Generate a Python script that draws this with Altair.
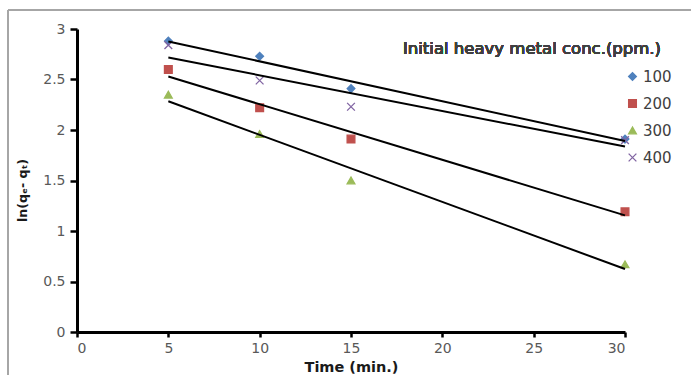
import altair as alt
import pandas as pd

# Pseudo-first-order kinetics: ln(qe - qt) against contact time
times = [5, 10, 15, 30]
series_names = ["100", "200", "300", "400"]
ln_100 = [2.88, 2.73, 2.41, 1.91]
ln_200 = [2.60, 2.22, 1.91, 1.19]
ln_300 = [2.35, 1.96, 1.50, 0.67]
ln_400 = [2.84, 2.49, 2.23, 1.90]

colors = ["#4F81BD", "#C0504D", "#9BBB59", "#8064A2"]
shapes = ["diamond", "square", "triangle-up", "M-1,-1L1,1M1,-1L-1,1"]

x_ticks = [0, 5, 10, 15, 20, 25, 30]
y_ticks = [0, 0.5, 1, 1.5, 2, 2.5, 3]

rows = []
for name, vals in zip(series_names, [ln_100, ln_200, ln_300, ln_400]):
    for t, v in zip(times, vals):
        rows.append({"time": t, "value": v, "conc": name})
df = pd.DataFrame(rows)

FONT = "DejaVu Sans"
W, H = 548, 303

axis_style = dict(
    grid=False,
    domainColor="#000000",
    domainWidth=3,
    tickColor="#000000",
    tickWidth=2.5,
    labelFont=FONT,
    labelFontSize=14,
    labelColor="#595959",
    titleFont=FONT,
    titleFontWeight="bold",
    titleColor="#1a1a1a",
)

x_enc = alt.X(
    "time:Q",
    scale=alt.Scale(domain=[0, 30], nice=False),
    axis=alt.Axis(
        values=x_ticks,
        title="Time (min.)",
        tickSize=5,
        labelPadding=4,
        titlePadding=5,
        titleFontSize=14.5,
        **axis_style,
    ),
)
y_enc = alt.Y(
    "value:Q",
    scale=alt.Scale(domain=[0, 3], nice=False),
    axis=alt.Axis(
        values=y_ticks,
        format=".1~f",
        title="ln(qₑ- qₜ)",
        tickSize=7,
        labelPadding=5,
        titlePadding=13,
        titleY=161,
        titleFontSize=12.5,
        **axis_style,
    ),
)

legend = alt.Legend(
    title=None,
    orient="none",
    legendX=548,
    legendY=40,
    padding=0,
    labelFont=FONT,
    labelFontSize=15,
    labelColor="#404040",
    labelOffset=3,
    rowPadding=11,
    symbolStrokeWidth=1.3,
    symbolSize=60,
)

color_scale = alt.Scale(domain=series_names, range=colors)

points = alt.Chart(df).mark_point(filled=True, size=60, strokeWidth=1.3, opacity=1).encode(
    x=x_enc,
    y=y_enc,
    color=alt.Color("conc:N", scale=color_scale, legend=legend),
    stroke=alt.Stroke("conc:N", scale=color_scale, legend=legend),
    shape=alt.Shape("conc:N", scale=alt.Scale(domain=series_names, range=shapes), legend=legend),
)

# least-squares trend line for each concentration
trend = (
    alt.Chart(df)
    .transform_regression("time", "value", groupby=["conc"])
    .mark_line(color="black", strokeWidth=2)
    .encode(x=x_enc, y=y_enc, detail="conc:N")
)

legend_title = alt.Chart(df).mark_text(
    text="Initial heavy metal conc.(ppm.)",
    font=FONT,
    fontSize=16.5,
    fontWeight="normal",
    color="#404040",
    align="center",
    baseline="middle",
).encode(x=alt.value(455), y=alt.value(20))

# outer frame of the figure (top and left edges)
frame_top = alt.Chart(df).mark_rule(color="#A6A6A6", strokeWidth=1.5).encode(
    x=alt.value(-69), x2=alt.value(700), y=alt.value(-19)
)
frame_left = alt.Chart(df).mark_rule(color="#A6A6A6", strokeWidth=1.5).encode(
    x=alt.value(-69), y=alt.value(-19), y2=alt.value(400)
)

chart = (
    alt.layer(points, trend, legend_title, frame_top, frame_left)
    .properties(
        width=W,
        height=H,
        autosize=alt.AutoSizeParams(type="none"),
        padding={"left": 77, "top": 29, "right": 66, "bottom": 43},
    )
    .configure_view(stroke=None)
)

chart.save("out.html", embed_options={"renderer": "svg", "actions": False})
